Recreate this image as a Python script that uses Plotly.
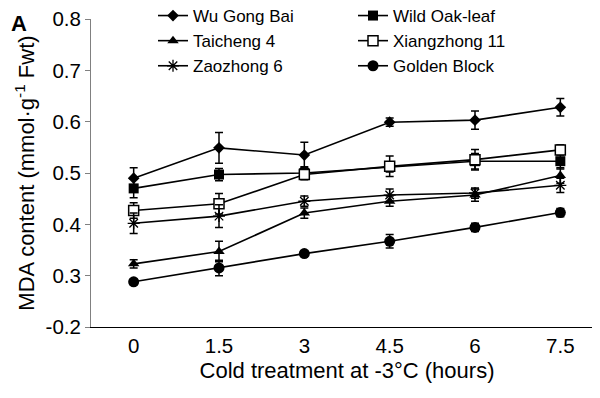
import plotly.graph_objects as go

hours = ["0", "1.5", "3", "4.5", "6", "7.5"]

wu_gong_bai = [0.490, 0.549, 0.535, 0.599, 0.603, 0.628]
wu_gong_bai_err = [0.020, 0.030, 0.025, 0.008, 0.018, 0.017]
wild_oak_leaf = [0.470, 0.497, 0.500, 0.512, 0.523, 0.523]
wild_oak_leaf_err = [0.018, 0.012, 0.012, 0.010, 0.015, 0.015]
taicheng_4 = [0.323, 0.347, 0.422, 0.445, 0.457, 0.495]
taicheng_4_err = [0.008, 0.020, 0.010, 0.010, 0.012, 0.015]
xiangzhong_11 = [0.427, 0.440, 0.497, 0.513, 0.526, 0.545]
xiangzhong_11_err = [0.015, 0.020, 0.010, 0.020, 0.020, 0.010]
zaozhong_6 = [0.402, 0.416, 0.445, 0.457, 0.461, 0.476]
zaozhong_6_err = [0.020, 0.022, 0.010, 0.012, 0.010, 0.014]
golden_block = [0.288, 0.315, 0.343, 0.367, 0.394, 0.423]
golden_block_err = [0.005, 0.015, 0.005, 0.013, 0.008, 0.008]

ytick_vals = [0.2, 0.3, 0.4, 0.5, 0.6, 0.7, 0.8]
ytick_text = ["-0.2", "0.3", "0.4", "0.5", "0.6", "0.7", "0.8"]

FONT = "Liberation Sans, Arial, sans-serif"

series = [
    ("Wu Gong Bai", wu_gong_bai, wu_gong_bai_err, dict(symbol="diamond", size=9, color="black"), "legend"),
    ("Wild Oak-leaf", wild_oak_leaf, wild_oak_leaf_err, dict(symbol="square", size=10, color="black"), "legend2"),
    ("Taicheng 4", taicheng_4, taicheng_4_err, dict(symbol="triangle-up", size=10, color="black"), "legend"),
    ("Xiangzhong 11", xiangzhong_11, xiangzhong_11_err,
     dict(symbol="square", size=10, color="white", line=dict(color="black", width=1.5)), "legend2"),
    ("Zaozhong 6", zaozhong_6, zaozhong_6_err,
     dict(symbol="asterisk-open", size=10, color="black", line=dict(color="black", width=1.3)), "legend"),
    ("Golden Block", golden_block, golden_block_err, dict(symbol="circle", size=11, color="black"), "legend2"),
]

fig = go.Figure()
for name, vals, errs, marker, leg in series:
    fig.add_trace(go.Scatter(
        x=hours, y=vals, name=name, mode="lines+markers",
        line=dict(color="black", width=1.6),
        marker=marker,
        error_y=dict(type="data", array=errs, visible=True, color="black", thickness=1.5, width=4),
        legend=leg,
    ))

PW, PH = 512, 308
legend_common = dict(
    font=dict(family=FONT, size=17, color="black"),
    bgcolor="rgba(0,0,0,0)", borderwidth=0,
    xanchor="left", yanchor="top",
    orientation="v", tracegroupgap=0,
)

fig.update_layout(
    width=600, height=398,
    margin=dict(l=83, r=5, t=11, b=79, autoexpand=False),
    paper_bgcolor="white", plot_bgcolor="white",
    font=dict(family=FONT, size=18, color="black"),
    showlegend=True,
    legend=dict(x=(145 - 83) / PW, y=1 + 21 / PH, **legend_common),
    legend2=dict(x=(345 - 83) / PW, y=1 + 21 / PH, **legend_common),
    xaxis=dict(
        type="category", range=[-0.5, 5.5],
        showline=True, linecolor="black", linewidth=1.2,
        ticks="", showgrid=False, zeroline=False,
        tickfont=dict(family=FONT, size=20.5, color="black"),
        title=dict(text="Cold treatment at -3°C (hours)", font=dict(family=FONT, size=22), standoff=6),
    ),
    yaxis=dict(
        range=[0.2, 0.8], tickvals=ytick_vals, ticktext=ytick_text,
        showline=True, linecolor="#808080", linewidth=1,
        ticks="outside", ticklen=5, tickcolor="#808080", tickwidth=1,
        showgrid=False, zeroline=False, ticklabeloverflow="allow",
        tickfont=dict(family=FONT, size=20.5, color="black"),
        title=dict(text="MDA content (mmol·g<sup>-1</sup> Fwt)", font=dict(family=FONT, size=22), standoff=4),
    ),
    annotations=[dict(
        text="<b>A</b>", x=-82 / PW, y=1 + 10 / PH, xref="paper", yref="paper",
        xanchor="left", yanchor="top",
        showarrow=False, font=dict(family=FONT, size=22, color="black"),
    )],
)

fig.write_html("out.html")
